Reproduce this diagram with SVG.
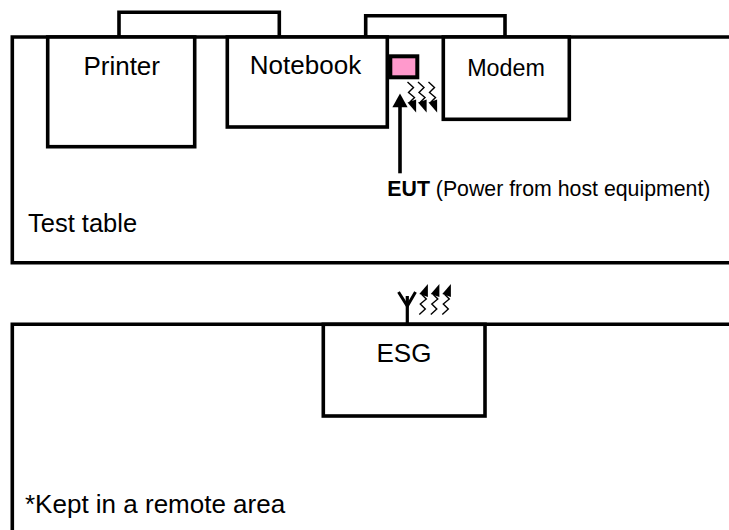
<svg xmlns="http://www.w3.org/2000/svg" xmlns:xlink="http://www.w3.org/1999/xlink" width="729" height="530" viewBox="0 0 729 530">
<style>
.frame{fill:none;stroke:#000;stroke-width:3.6}
.box{fill:#fff;stroke:#000;stroke-width:3.6}
.cable{fill:none;stroke:#000;stroke-width:3.6;stroke-linejoin:miter}
.lbl{font-family:"Liberation Sans",Arial,sans-serif;fill:#000}
.zz{fill:none;stroke:#000;stroke-width:1.4;stroke-linejoin:miter}
.head{fill:#000;stroke:none}
</style>
<defs>
<g id="wave">
<polyline class="zz" points="0,0 6,-5.5 1,-10.5 7,-15.5 3,-19.5 4.3,-20"/>
<polygon class="head" points="8.6,-30.5 0,-20.6 8.6,-17.4"/>
</g>
</defs>
<rect width="729" height="530" fill="#fff"/>
<g id="test-table">
<path class="frame" d="M729,37 H12.3 V262.8 H729"/>
<text class="lbl" x="28" y="232" font-size="25.5">Test table</text>
</g>
<g id="remote-area">
<path class="frame" d="M729,324.3 H12.3 V532"/>
<text class="lbl" x="25" y="512.7" font-size="26">*Kept in a remote area</text>
</g>
<g id="connectors">
<polyline class="cable" points="119,37 119,12.3 279.3,12.3 279.3,37"/>
<polyline class="cable" points="365.7,37 365.7,15.7 505,15.7 505,37"/>
<line x1="400" y1="173.3" x2="400" y2="104" stroke="#000" stroke-width="3.6"/>
<polygon class="head" points="400,93.5 392.4,107.3 407.6,107.3"/>
<use xlink:href="#wave" transform="translate(407.5,82) scale(1,-1)"/>
<use xlink:href="#wave" transform="translate(418,82) scale(1,-1)"/>
<use xlink:href="#wave" transform="translate(428.5,82) scale(1,-1)"/>
<g id="antenna">
<line x1="407.3" y1="296" x2="407.3" y2="324" stroke="#000" stroke-width="3.2"/>
<polyline points="398.5,292 407.3,306 415.5,292" fill="none" stroke="#000" stroke-width="3"/>
</g>
<use xlink:href="#wave" transform="translate(419.3,314.5)"/>
<use xlink:href="#wave" transform="translate(430.8,314.5)"/>
<use xlink:href="#wave" transform="translate(442.3,314.5)"/>
</g>
<g id="printer">
<rect class="box" x="47.7" y="37" width="147" height="109.7"/>
<text class="lbl" x="121.7" y="75" font-size="26" text-anchor="middle">Printer</text>
</g>
<g id="notebook">
<rect class="box" x="227.3" y="37" width="160" height="90"/>
<text class="lbl" x="305.5" y="74" font-size="26" text-anchor="middle">Notebook</text>
</g>
<g id="modem">
<rect class="box" x="443.3" y="37" width="126" height="82.3"/>
<text class="lbl" x="506" y="76" font-size="23.3" text-anchor="middle">Modem</text>
</g>
<g id="eut">
<rect x="390.3" y="56.3" width="27" height="21" fill="#FF99CC" stroke="#000" stroke-width="4"/>
<text class="lbl" x="387.3" y="196" font-size="21.3"><tspan font-weight="bold">EUT</tspan> (Power from host equipment)</text>
</g>
<g id="esg">
<rect class="box" x="323.3" y="324.3" width="161.7" height="91.7"/>
<text class="lbl" x="404" y="362.3" font-size="26" text-anchor="middle">ESG</text>
</g>
</svg>
